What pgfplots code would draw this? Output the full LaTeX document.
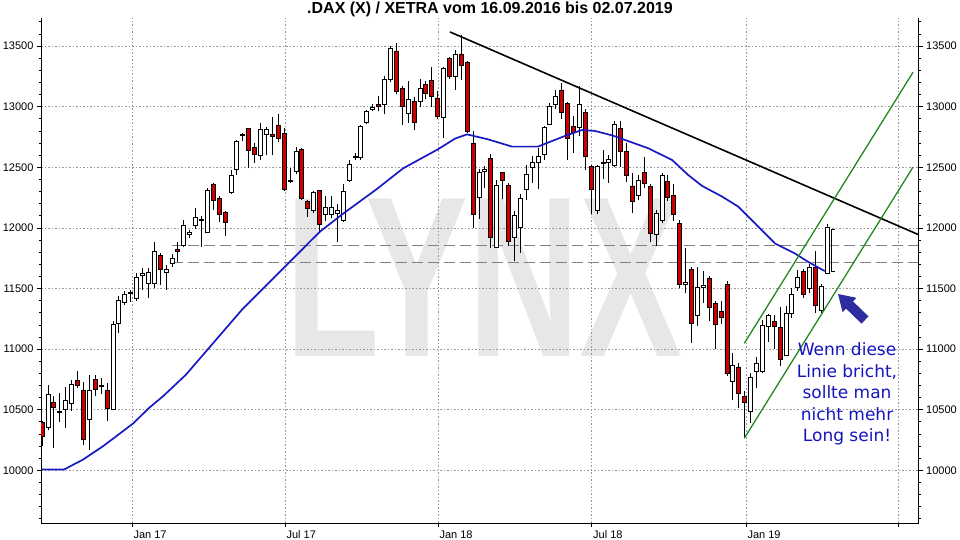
\documentclass[border=0pt]{standalone}
\usepackage{pgfplots}
\pgfplotsset{compat=1.18}
\usepackage{pgfplotstable}
\usepackage{fontspec}
\setmainfont{Liberation Sans}
\newfontfamily\dejavu{DejaVu Sans}
\definecolor{candred}{RGB}{205,0,0}
\definecolor{mablue}{RGB}{25,25,195}
\definecolor{trendgreen}{RGB}{35,135,35}
\definecolor{notblue}{RGB}{20,20,190}
\definecolor{arrowblue}{RGB}{45,45,160}
\definecolor{gridgray}{RGB}{150,150,150}
\definecolor{wmgray}{RGB}{231,231,231}
\definecolor{dashgray}{RGB}{128,128,128}

\pgfplotstableread{
w o h l c
0 10396 10410 10200 10280
1 10355 10700 10330 10624
2 10558 10610 10184 10517
3 10480 10640 10400 10490
4 10500 10684 10349 10577
5 10555 10747 10486 10712
6 10742 10816 10680 10700
7 10660 10725 10206 10258
8 10418 10789 10165 10660
9 10747 10789 10610 10670
10 10690 10760 10630 10700
11 10660 10720 10404 10514
12 10500 11228 10495 11200
13 11214 11440 11132 11398
14 11385 11475 11365 11448
15 11460 11490 11390 11470
16 11420 11626 11393 11593
17 11607 11668 11490 11626
18 11544 11668 11420 11632
19 11544 11887 11503 11805
20 11777 11790 11530 11654
21 11635 11695 11490 11660
22 11703 11780 11680 11750
23 11824 11887 11720 11805
24 11856 12065 11840 12024
25 11950 11985 11915 11963
26 12024 12161 11990 12087
27 12070 12100 11845 12064
28 11960 12330 11955 12312
29 12362 12370 12147 12230
30 12244 12260 12050 12114
31 12131 12140 11936 12046
32 12290 12477 12280 12436
33 12483 12725 12436 12717
34 12760 12785 12720 12770
35 12821 12827 12490 12643
36 12662 12700 12532 12607
37 12595 12868 12560 12816
38 12772 12830 12600 12813
39 12770 12912 12600 12752
40 12849 12940 12710 12739
41 12780 12820 12300 12318
42 12380 12490 12370 12389
43 12464 12665 12440 12629
44 12648 12660 12230 12244
45 12216 12230 12093 12161
46 12142 12305 12120 12290
47 12307 12310 11960 12026
48 12110 12265 12060 12170
49 12115 12260 12080 12167
50 12120 12200 11884 12145
51 12061 12360 12050 12299
52 12389 12560 12380 12525
53 12580 12620 12560 12592
54 12585 12845 12560 12834
55 12867 12975 12855 12962
56 12980 13025 12960 12992
57 13020 13085 12960 12998
58 13017 13250 12935 13221
59 13221 13500 13200 13481
60 13459 13525 13100 13126
61 13153 13170 12850 13003
62 12943 13208 12867 13063
63 13044 13080 12810 12872
64 13044 13227 13000 13153
65 13180 13210 13060 13107
66 13213 13330 13000 13085
67 13071 13125 12900 12921
68 12908 13330 12744 13317
69 13399 13410 13230 13249
70 13249 13470 13140 13434
71 13434 13590 13220 13344
72 13363 13380 12780 12794
73 12697 12800 12000 12111
74 12248 12482 12069 12455
75 12470 12510 12330 12483
76 12570 12606 11830 11918
77 11835 12394 11830 12350
78 12455 12460 12235 12394
79 12350 12372 11850 11890
80 11918 12138 11725 12103
81 12001 12280 11795 12240
82 12317 12515 12230 12441
83 12496 12592 12370 12543
84 12543 12661 12317 12587
85 12606 12840 12560 12827
86 12854 13030 12850 13005
87 13019 13138 12980 13083
88 13138 13198 12900 12956
89 13028 13040 12560 12736
90 12840 12923 12620 12785
91 12827 13170 12758 13019
92 12950 12980 12480 12593
93 12504 12520 12110 12317
94 12146 12520 12110 12504
95 12530 12640 12400 12540
96 12540 12600 12370 12561
97 12519 12880 12500 12857
98 12821 12880 12500 12629
99 12629 12700 12380 12429
100 12346 12450 12120 12217
101 12264 12434 12230 12390
102 12459 12588 12330 12363
103 12341 12360 11880 11956
104 11950 12148 11852 12121
105 12060 12450 12038 12429
106 12382 12437 12220 12253
107 12264 12363 12060 12115
108 12038 12066 11500 11530
109 11530 11832 11460 11549
110 11659 11680 11050 11209
111 11275 11676 11190 11508
112 11510 11640 11380 11529
113 11585 11600 11228 11346
114 11379 11393 11000 11201
115 11311 11393 11210 11264
116 11530 11558 10780 10797
117 10734 10967 10583 10863
118 10852 10885 10514 10632
119 10610 10650 10267 10561
120 10486 10800 10386 10769
121 10813 10937 10676 10881
122 10813 11240 10800 11198
123 11184 11290 11060 11280
124 11225 11280 11000 11184
125 11179 11350 10860 10915
126 10951 11355 10950 11294
127 11294 11500 11260 11450
128 11508 11650 11480 11590
129 11637 11660 11420 11453
130 11500 11700 11460 11673
131 11678 11810 11300 11363
132 11321 11540 11300 11514
133 11624 12030 11620 12008
}\candles

\pgfplotsset{
  common/.style={
    scale only axis, width=877.7pt, height=505pt,
    at={(41pt,17pt)}, anchor=south west,
    xmin=-0.17, xmax=148.49, ymin=9565, ymax=13731,
    scaled x ticks=false, scaled y ticks=false,
    xtick={15.24,41.16,67.07,93.1,119.24,145.04},
    ytick={10000,10500,...,13500},
    minor ytick={9600,9700,...,13700},
    tick align=outside,
    major tick length=4pt, minor tick length=2.5pt,
    tick style={black, line width=0.6pt},
    axis line style={black, line width=0.8pt},
    yticklabels={10000,10500,11000,11500,12000,12500,13000,13500},
    yticklabel style={font=\fontsize{11}{13}\selectfont},
  }
}

\begin{document}
\begin{tikzpicture}
\useasboundingbox (0,0) rectangle (960pt,540pt);
% watermark
\node[text=wmgray, inner sep=0pt, xscale=0.674, font=\bfseries\fontsize{229}{229}\selectfont] at (484pt,262pt) {LYNX};
% title
\node[anchor=base, inner sep=0pt, font=\bfseries\fontsize{16}{18}\selectfont] at (490pt,526pt) {.DAX (X) / XETRA vom 16.09.2016 bis 02.07.2019};

% main axis: grid, left and bottom axis, dashed lines, wicks
\begin{axis}[common,
  axis x line*=bottom, axis y line*=left,
  xmajorgrids, ymajorgrids,
  grid style={gridgray, dash pattern=on 1.5pt off 2pt, line width=0.6pt},
  xticklabels={Jan 17,Jul 17,Jan 18,Jul 18,Jan 19,{}},
  xticklabel style={anchor=north west, xshift=-2pt, font=\fontsize{11}{13}\selectfont},
]
\addplot[dashgray, line width=1.2pt, dash pattern=on 11pt off 5pt] coordinates {(22,11853) (148.49,11853)};
\addplot[dashgray, line width=1.2pt, dash pattern=on 11pt off 5pt] coordinates {(22,11711) (148.49,11711)};
\addplot[draw=none, mark=none,
  error bars/.cd, y dir=plus, y explicit, error mark=none,
  error bar style={draw=black, line width=0.7pt}]
  table[x=w, y=l, y error expr=\thisrow{h}-\thisrow{l}] {\candles};
\end{axis}

% candle bodies
\begin{axis}[common, hide axis, ybar stacked, bar width=4pt]
\addplot[draw=none, fill=none] table[x=w, y expr={min(\thisrow{o},\thisrow{c})}] {\candles};
\addplot[draw=black, fill=white, line width=0.7pt] table[x=w, y expr={max(\thisrow{c}-\thisrow{o},0)}] {\candles};
\addplot[draw=black, fill=candred, line width=0.7pt] table[x=w, y expr={max(\thisrow{o}-\thisrow{c},0)}] {\candles};
\end{axis}

% right axis, indicators
\begin{axis}[common, axis y line*=right, axis x line=none, xtick=\empty]
\addplot[mablue, line width=1.7pt] coordinates {
(0,10006) (3.73,10006) (6.94,10088) (10.33,10198) (15.41,10385) (18.12,10514)
(20.49,10610) (24.39,10789) (33.82,11322) (38.62,11556) (41.16,11680) (44.21,11829)
(45.39,11887) (47.09,11969) (50.98,12116) (56.74,12321) (61.14,12490) (67.07,12648)
(69.95,12736) (71.98,12771) (75.54,12730) (79.61,12670) (84.01,12670) (85.70,12703)
(88.58,12758) (91.46,12807) (93.67,12799) (96.54,12763) (98.75,12725) (102.64,12657)
(106.71,12560) (109.42,12437) (111.79,12346) (115.18,12258) (117.89,12176) (120.77,12037)
(124.15,11871) (127.54,11788) (129.74,11720) (132.59,11643)};
\addplot[black, line width=1.6pt] coordinates {(69.1,13616) (148.49,11943)};
\addplot[trendgreen, line width=1.3pt] coordinates {(118.95,11047) (147.52,13283)};
\addplot[trendgreen, line width=1.3pt] coordinates {(118.95,10264) (147.52,12500)};
\addplot[black, line width=0.8pt] coordinates {(134.25,11986) (133.75,11986) (133.75,11637) (134.25,11637)};
\end{axis}

% arrow annotation
\fill[arrowblue] (838pt,246pt) -- (856.4pt,242.2pt) -- (853pt,238.6pt) -- (868.5pt,223.6pt)
  -- (861.5pt,216.4pt) -- (846pt,231.4pt) -- (842.6pt,227.8pt) -- cycle;
% text annotation
\begin{scope}[every node/.style={anchor=base, inner sep=0pt, text=notblue, font=\dejavu\fontsize{17}{20}\selectfont}]
\node at (847pt,184pt) {Wenn diese};
\node at (847pt,162.6pt) {Linie bricht,};
\node at (847pt,141.2pt) {sollte man};
\node at (847pt,119.8pt) {nicht mehr};
\node at (847pt,98.4pt) {Long sein!};
\end{scope}
\end{tikzpicture}
\end{document}
